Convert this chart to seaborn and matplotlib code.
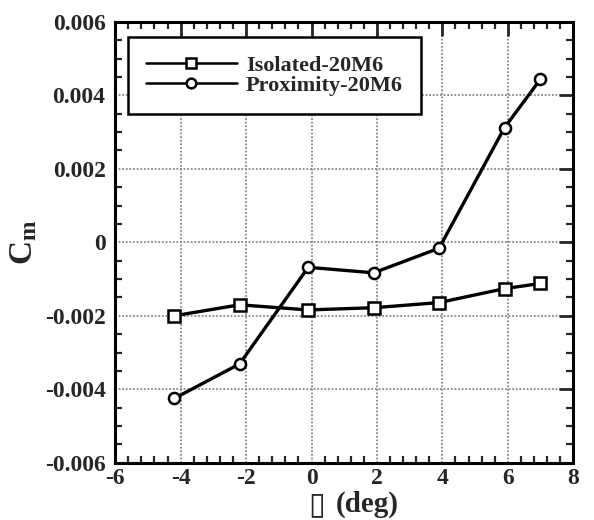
import matplotlib
matplotlib.use("Agg")
import matplotlib.pyplot as plt
from matplotlib.ticker import MultipleLocator, FixedLocator
import seaborn as sns
import pandas as pd

alpha = [-4.2, -2.2, -0.1, 1.9, 3.9, 5.9, 7.0]
cm_isolated = [-0.00200, -0.00170, -0.00184, -0.00178, -0.00164, -0.00126, -0.00112]
cm_proximity = [-0.00425, -0.00331, -0.00068, -0.00083, -0.00016, 0.00312, 0.00444]
series_names = ["Isolated-20M6", "Proximity-20M6"]
x_ticks = [-6, -4, -2, 0, 2, 4, 6, 8]
y_ticks = [-0.006, -0.004, -0.002, 0, 0.002, 0.004, 0.006]
y_tick_labels = ["-0.006", "-0.004", "-0.002", "0", "0.002", "0.004", "0.006"]
x_symbol = "\u25af"
x_unit = "(deg)"

df = pd.DataFrame({
    "alpha": alpha * 2,
    "cm": cm_isolated + cm_proximity,
    "case": [series_names[0]] * len(alpha) + [series_names[1]] * len(alpha),
})

sns.set_style("white")
plt.rcParams["font.family"] = ["Liberation Serif", "DejaVu Sans"]
plt.rcParams["font.weight"] = "bold"
plt.rcParams["mathtext.fontset"] = "custom"
plt.rcParams["mathtext.rm"] = "Liberation Serif:bold"
plt.rcParams["mathtext.bf"] = "Liberation Serif:bold"
plt.rcParams["mathtext.default"] = "bf"

fig = plt.figure(figsize=(5.94, 5.2), dpi=100)
ax = fig.add_axes([0.194, 0.110, 0.771, 0.848])

sns.lineplot(
    data=df, x="alpha", y="cm", hue="case", style="case",
    palette=["black", "black"], markers={series_names[0]: "s", series_names[1]: "o"},
    dashes=False, linewidth=2.4, markersize=8, markerfacecolor="white",
    markeredgecolor="black", markeredgewidth=1.8, ax=ax,
)

ax.set_xlim(-6, 8)
ax.set_ylim(-0.006, 0.006)
ax.xaxis.set_major_locator(FixedLocator(x_ticks))
ax.xaxis.set_minor_locator(MultipleLocator(0.4))
ax.yaxis.set_major_locator(FixedLocator(y_ticks))
ax.yaxis.set_minor_locator(MultipleLocator(0.0005))
ax.set_xticklabels([str(t) for t in x_ticks], fontsize=17, fontweight="bold")
ax.set_yticklabels(y_tick_labels, fontsize=17, fontweight="bold")

ax.tick_params(which="major", direction="in", length=10, width=2,
               top=True, right=True, labeltop=False, labelright=False)
ax.tick_params(axis="x", which="major", pad=4)
ax.tick_params(axis="y", which="major", pad=7)
ax.tick_params(which="minor", direction="in", length=5, width=1.6,
               top=True, right=True, bottom=True, left=True)

ax.grid(True, which="major", color="#888888", linestyle=(0, (1, 1)), linewidth=1.3)
ax.set_axisbelow(True)
for s in ax.spines.values():
    s.set_linewidth(2.2)
    s.set_color("black")

# x-axis title: angle symbol drawn as its own text so it can be sized separately
ax.set_xlabel("")
fig.text(0.533, 0.029, x_symbol, fontsize=22, family="DejaVu Sans",
         ha="center", va="center")
fig.text(0.618, 0.031, x_unit, fontsize=21, fontweight="bold",
         ha="center", va="center")
ax.set_ylabel(r"C$_{\mathbf{m}}$", fontsize=24, fontweight="bold", labelpad=4)

leg = ax.legend(loc="upper left", bbox_to_anchor=(0.028, 0.965), frameon=True,
                fancybox=False, edgecolor="black", framealpha=1,
                prop={"family": "Liberation Serif", "weight": "bold", "size": 16},
                handlelength=4.1, borderpad=0.8, labelspacing=0.0, handletextpad=0.4,
                borderaxespad=0)
leg.get_frame().set_linewidth(1.8)
for h in leg.legend_handles:
    h.set_linewidth(1.8)
    h.set_markersize(7)

fig.savefig("out.png", dpi=100)
